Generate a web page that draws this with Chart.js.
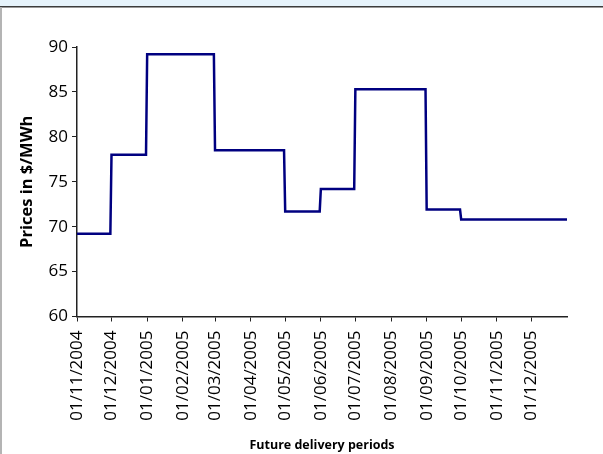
<!DOCTYPE html>
<html>
<head>
<meta charset="utf-8">
<title>Future delivery prices</title>
<script src="https://cdn.jsdelivr.net/npm/chart.js@4/dist/chart.umd.min.js"></script>
<style>
  html, body { margin: 0; padding: 0; background: #ffffff; }
  #wrap { position: relative; width: 603px; height: 454px; overflow: hidden; background: #ffffff; }
  #chart { position: absolute; left: 0; top: 0; }
  .band { position: absolute; left: 0; top: 0; width: 603px; height: 6px; background: #e6f3fb; }
  .rule { position: absolute; left: 0; top: 6px; width: 603px; height: 1px; background: #3c3c3c; }
  .rule2 { position: absolute; left: 0; top: 7px; width: 603px; height: 1px; background: #9a9a9a; }
  .side { position: absolute; left: 0; top: 7px; width: 2px; height: 447px; background: #b4b4b4; }
</style>
</head>
<body>
<div id="wrap">
  <canvas id="chart" width="603" height="454"></canvas>
  <div class="band"></div>
  <div class="rule"></div>
  <div class="rule2"></div>
  <div class="side"></div>
</div>
<script>
// Delivery months (first day of each month) shown on the x axis
const tickLabels = [
  '01/11/2004', '01/12/2004', '01/01/2005', '01/02/2005', '01/03/2005',
  '01/04/2005', '01/05/2005', '01/06/2005', '01/07/2005', '01/08/2005',
  '01/09/2005', '01/10/2005', '01/11/2005', '01/12/2005'
];
// End of the last delivery period
const axisEnd = '01/01/2006';
// Forward price for each delivery month, $/MWh
const monthlyPrices = [
  69.2, 78.0, 89.2, 89.2, 78.5, 78.5, 71.7,
  74.2, 85.3, 85.3, 71.9, 70.8, 70.8, 70.8
];
const yTicks = { min: 60, max: 90, step: 5 };

// dd/mm/yyyy -> whole day number
function dayNumber(s) {
  const [d, m, y] = s.split('/').map(Number);
  return Date.UTC(y, m - 1, d) / 86400000;
}

const monthStarts = tickLabels.map(dayNumber);
const endDay = dayNumber(axisEnd);

// Each month's price holds from its first day to its last day
const points = [];
monthlyPrices.forEach((p, i) => {
  const start = monthStarts[i];
  const end = i < monthStarts.length - 1 ? monthStarts[i + 1] - 1 : endDay;
  points.push({ x: start, y: p });
  points.push({ x: end, y: p });
});

Chart.defaults.font.family = "'Open Sans', 'Noto Sans', sans-serif";
Chart.defaults.color = '#000000';

new Chart(document.getElementById('chart'), {
  type: 'line',
  data: {
    datasets: [{
      data: points,
      borderColor: '#000080',
      borderWidth: 2.5,
      pointRadius: 0,
      tension: 0,
      fill: false
    }]
  },
  options: {
    responsive: false,
    animation: false,
    events: [],
    layout: { padding: { top: 47, right: 36, bottom: 0, left: 0 } },
    plugins: { legend: { display: false }, tooltip: { enabled: false } },
    scales: {
      x: {
        type: 'linear',
        min: monthStarts[0],
        max: endDay,
        afterBuildTicks: (scale) => {
          scale.ticks = monthStarts.map(v => ({ value: v }));
        },
        afterFit: (scale) => { scale.height = 137.5; },
        ticks: {
          autoSkip: false,
          minRotation: 90,
          maxRotation: 90,
          padding: 9,
          font: { size: 17 },
          callback: (value, index) => tickLabels[index]
        },
        grid: { drawOnChartArea: false, drawTicks: true, tickLength: 5, color: '#222222', lineWidth: 1 },
        border: { display: true, color: '#222222', width: 1.5 },
        title: {
          display: true,
          text: 'Future delivery periods',
          font: { size: 12.5, weight: 'bold' },
          padding: { top: 0, bottom: 1 }
        }
      },
      y: {
        min: yTicks.min,
        max: yTicks.max,
        afterFit: (scale) => { scale.width = 77; },
        ticks: {
          stepSize: yTicks.step,
          padding: 4,
          font: { size: 17 }
        },
        grid: { drawOnChartArea: false, drawTicks: true, tickLength: 5, color: '#222222', lineWidth: 1 },
        border: { display: true, color: '#222222', width: 1.5 },
        title: {
          display: true,
          text: 'Prices in $/MWh',
          font: { size: 16.5, weight: 'bold' },
          padding: { top: 17, bottom: 4 }
        }
      }
    }
  }
});
</script>
</body>
</html>
